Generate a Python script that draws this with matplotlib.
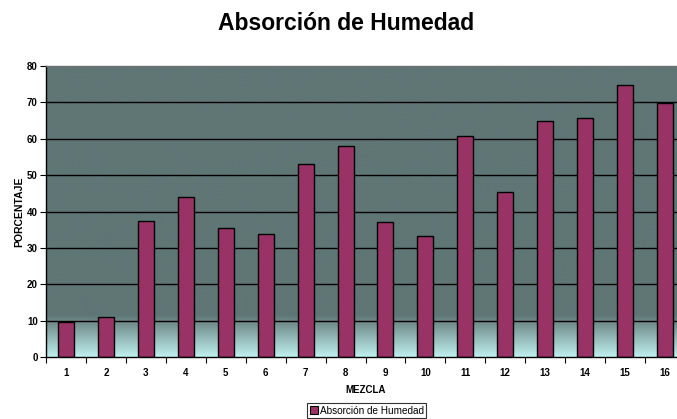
import matplotlib
matplotlib.use("Agg")
import matplotlib.pyplot as plt
import numpy as np
from matplotlib.patches import Patch

categories = [str(i) for i in range(1, 17)]
values = [9.7, 10.9, 37.3, 43.9, 35.6, 33.9, 53.0, 57.9, 37.1, 33.4, 60.7, 45.4, 65.0, 65.6, 74.8, 69.8]
yticks = [0, 10, 20, 30, 40, 50, 60, 70, 80]

title = "Absorción de Humedad"
xlabel = "MEZCLA"
ylabel = "PORCENTAJE"
legend_label = "Absorción de Humedad"

bar_color = "#993366"
dark_bg = (95/255, 118/255, 117/255)
light_bg = (192/255, 240/255, 240/255)

plt.rcParams['font.family'] = ['Liberation Sans', 'DejaVu Sans']

W, H = 677, 419
fig = plt.figure(figsize=(W/100, H/100), dpi=100)
left, right, top, bottom = 46, 685, 66, 357
ax = fig.add_axes([left/W, (H-bottom)/H, (right-left)/W, (bottom-top)/H])

n = len(categories)
x = np.arange(n)
ax.set_xlim(-0.5, n-0.5)
ax.set_ylim(0, 80)

# background: dark until ~11, gradient to light cyan at 0
ys = np.linspace(0, 80, 800)
t = np.clip(ys/11.5, 0, 1)
cols = np.array([np.array(light_bg)*(1-tt) + np.array(dark_bg)*tt for tt in t])
img = cols[:, None, :]
ax.imshow(img, extent=(-0.5, n-0.5, 0, 80), origin='lower', aspect='auto', zorder=0)

for yv in yticks[1:-1]:
    ax.axhline(yv, color='black', lw=1.0, zorder=1)

ax.bar(x, values, width=0.4, color=bar_color, edgecolor='black', linewidth=1.0, zorder=2)

ax.set_yticks(yticks)
ax.set_yticklabels([str(v) for v in yticks], fontsize=7, fontweight='bold')
ax.set_xticks(x)
ax.set_xticklabels(categories, fontsize=7, fontweight='bold')
ax.set_xticks(np.arange(-0.5, n, 1.0), minor=True)
ax.tick_params(axis='x', which='major', length=0, pad=8)
ax.tick_params(axis='x', which='minor', length=4, width=0.8, direction='out')
ax.tick_params(axis='y', length=4, width=0.8, direction='out', pad=2)

for s in ['left', 'bottom']:
    ax.spines[s].set_color('black')
    ax.spines[s].set_linewidth(1.0)
ax.spines['top'].set_color('#707070')
ax.spines['top'].set_linewidth(1.0)
ax.spines['right'].set_visible(False)

ax.set_xlabel(xlabel, fontsize=7, fontweight='bold', labelpad=5)
ax.set_ylabel(ylabel, fontsize=7.5, fontweight='bold', labelpad=2)

fig.text(346/W, 1 - 24/H, title, fontsize=16.5, fontweight='bold', ha='center', va='center')

leg = fig.legend(handles=[Patch(facecolor=bar_color, edgecolor='black', linewidth=0.8, label=legend_label)],
                 loc='center', bbox_to_anchor=(367/W, 1 - 410.5/H), fontsize=7.2, frameon=True,
                 fancybox=False, handlelength=0.8, handleheight=0.8, handletextpad=0.2,
                 borderpad=0.25, borderaxespad=0)
leg.get_frame().set_edgecolor('black')
leg.get_frame().set_linewidth(0.8)

fig.savefig("out.png", dpi=100)
